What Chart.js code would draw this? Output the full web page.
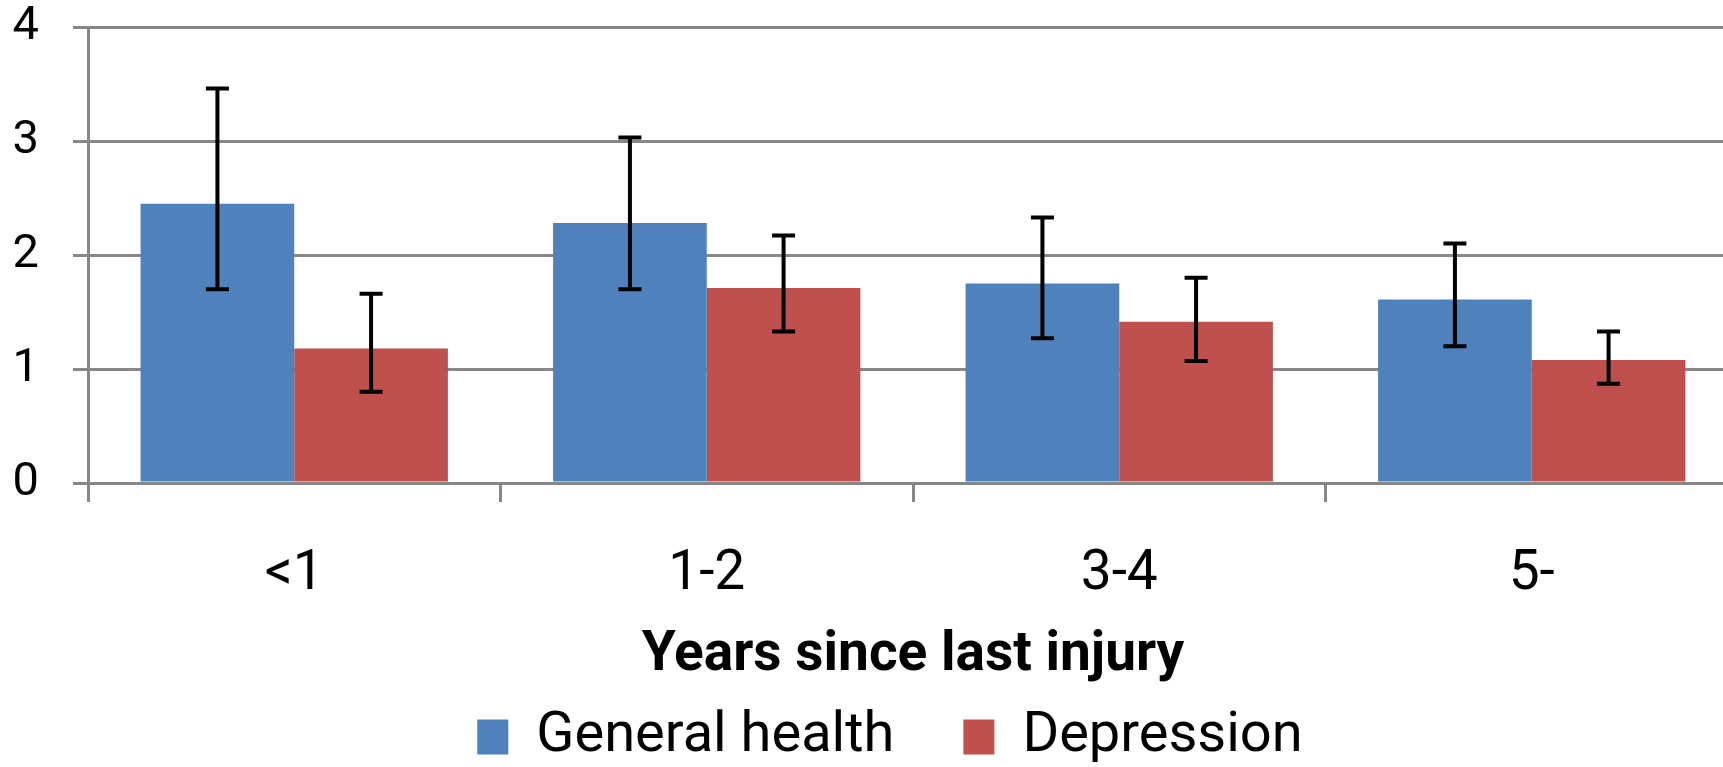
<!DOCTYPE html>
<html>
<head>
<meta charset="utf-8">
<script src="https://cdn.jsdelivr.net/npm/chart.js@4.4.0/dist/chart.umd.min.js"></script>
<style>
  html, body { margin: 0; padding: 0; background: #fff; overflow: hidden; }
  #wrap { width: 1738px; height: 775px; }
</style>
</head>
<body>
<div id="wrap"><canvas id="Chart" width="1738" height="775"></canvas></div>
<script>
const categories = ['<1', '1-2', '3-4', '5-'];
const generalHealth = [2.45, 2.28, 1.75, 1.61];
const generalHealthLow = [1.70, 1.70, 1.27, 1.20];
const generalHealthHigh = [3.46, 3.03, 2.33, 2.10];
const depression = [1.18, 1.71, 1.415, 1.08];
const depressionLow = [0.80, 1.33, 1.07, 0.87];
const depressionHigh = [1.66, 2.17, 1.80, 1.33];
const yTicks = [0, 1, 2, 3, 4];

const gridColor = '#878787';

// error bars drawn on top of the bars, positioned by the y scale
const errorBars = {
  id: 'errorBars',
  afterDatasetsDraw(chart) {
    const ctx = chart.ctx;
    const y = chart.scales.y;
    const ranges = [[generalHealthLow, generalHealthHigh], [depressionLow, depressionHigh]];
    ctx.save();
    ctx.strokeStyle = '#000';
    ctx.lineWidth = 4;
    chart.data.datasets.forEach((ds, i) => {
      chart.getDatasetMeta(i).data.forEach((bar, j) => {
        const top = y.getPixelForValue(ranges[i][1][j]);
        const bottom = y.getPixelForValue(ranges[i][0][j]);
        ctx.beginPath();
        ctx.moveTo(bar.x, top);
        ctx.lineTo(bar.x, bottom);
        ctx.moveTo(bar.x - 11.5, top);
        ctx.lineTo(bar.x + 11.5, top);
        ctx.moveTo(bar.x - 11.5, bottom);
        ctx.lineTo(bar.x + 11.5, bottom);
        ctx.stroke();
      });
    });
    ctx.restore();
  }
};

const ctx = document.getElementById('Chart').getContext('2d');

new Chart(ctx, {
  type: 'bar',
  data: {
    labels: categories,
    datasets: [
      {
        label: 'General health',
        data: generalHealth,
        backgroundColor: '#4F81BD',
        categoryPercentage: 0.745,
        barPercentage: 1
      },
      {
        label: 'Depression',
        data: depression,
        backgroundColor: '#C0504D',
        categoryPercentage: 0.745,
        barPercentage: 1
      }
    ]
  },
  plugins: [errorBars],
  options: {
    responsive: false,
    animation: false,
    devicePixelRatio: 1,
    // legend box runs past the right edge so its centre sits where the original's does
    layout: { padding: { left: 2, right: -40, top: 0, bottom: 0 } },
    plugins: {
      legend: {
        position: 'bottom',
        labels: {
          boxWidth: 31,
          boxHeight: 35,
          padding: 69,
          color: '#000',
          font: { family: 'Roboto', size: 56 }
        }
      },
      tooltip: { enabled: false }
    },
    scales: {
      x: {
        afterFit(scale) {
          scale.height = 157;
        },
        grid: {
          offset: true,
          drawOnChartArea: false,
          tickLength: 19,
          color: gridColor,
          lineWidth: 3
        },
        border: { color: gridColor, width: 3 },
        ticks: {
          color: '#000',
          padding: 40,
          font: { family: 'Roboto', size: 55 }
        },
        title: {
          display: true,
          text: 'Years since last injury',
          color: '#000',
          padding: { top: 0, bottom: -49 },
          font: { family: 'Roboto', size: 55, weight: 'bold' }
        }
      },
      y: {
        min: 0,
        max: 4,
        afterBuildTicks(scale) {
          scale.ticks = yTicks.map(v => ({ value: v }));
        },
        afterFit(scale) {
          scale.width = 86;
          scale.paddingTop = 27;
        },
        grid: {
          color: gridColor,
          lineWidth: 3,
          tickLength: 15
        },
        border: { color: gridColor, width: 3 },
        ticks: {
          color: '#000',
          padding: 34,
          font: { family: 'Roboto', size: 47 }
        }
      },
      // empty spacer on the right, keeps the plot edge at 1738
      spacer: {
        type: 'linear',
        position: 'right',
        grid: { display: false },
        border: { display: false },
        ticks: { display: false },
        afterFit(scale) {
          scale.width = 40;
        }
      }
    }
  }
});
</script>
</body>
</html>
